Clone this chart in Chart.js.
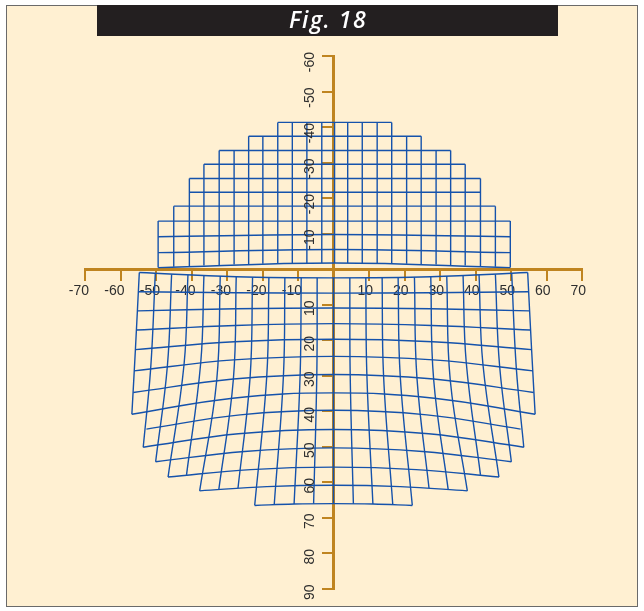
<!DOCTYPE html>
<html>
<head>
<meta charset="utf-8">
<script src="https://cdn.jsdelivr.net/npm/chart.js@4.4.0/dist/chart.umd.min.js"></script>
<style>
  html, body { margin: 0; padding: 0; background: #fff; }
</style>
</head>
<body>
<canvas id="fig" width="644" height="611"></canvas>
<script>
const chartTitle = 'Fig. 18';

// Axis ticks (no label at the origin)
const xTickValues = [-70, -60, -50, -40, -30, -20, -10, 10, 20, 30, 40, 50, 60, 70];
const yTickValues = [-60, -50, -40, -30, -20, -10, 10, 20, 30, 40, 50, 60, 70, 80, 90];

// Upper mesh (above the x axis), columns -12..12
const topColX = [-49.4, -45.0, -40.6, -36.5, -32.2, -28.0, -23.9, -19.9, -15.7, -11.6, -7.5, -3.3, 0.3,
                 4.0, 8.1, 12.3, 16.4, 20.6, 24.7, 28.9, 33.0, 37.1, 41.4, 45.6, 49.8];
const topColEndY = [-0.4, -0.6, -0.8, -1.0, -1.1, -1.3, -1.4, -1.5, -1.6, -1.6, -1.7, -1.7, -1.7,
                    -1.7, -1.7, -1.6, -1.6, -1.5, -1.4, -1.3, -1.1, -1.0, -0.8, -0.6, -0.4];
// rows, top to bottom
const topRowY     = [-41.3, -37.4, -33.4, -29.5, -25.5, -21.6, -17.7, -13.5, -9.7, -5.5, -1.7];
const topRowEdgeY = [-41.3, -37.4, -33.4, -29.5, -25.5, -21.6, -17.7, -13.5, -9.1, -4.6, -0.4];
const topRowSpan  = [4, 6, 8, 9, 10, 10, 11, 12, 12, 12, 12];

// Lower mesh (below the x axis), right half (left half mirrored)
// rows, top to bottom: centre, half-way and end points
const lowRowY     = [2.5, 6.8, 11.0, 15.4, 19.8, 24.6, 29.7, 34.9, 39.8, 45.2, 50.4, 55.8, 60.9, 66.1];
const lowRowHalfX = [27.4, 27.5, 27.5, 27.7, 27.9, 28.1, 28.2, 28.4, 26.3, 26.8, 25.1, 23.3, 18.8, 11.1];
const lowRowHalfY = [2.2, 6.7, 11.2, 15.9, 20.5, 25.6, 31.0, 36.4, 41.1, 46.4, 51.4, 56.5, 61.3, 66.2];
const lowRowEndX  = [54.7, 55.0, 55.1, 55.4, 55.8, 56.2, 56.4, 56.8, 52.7, 53.6, 50.1, 46.6, 37.7, 22.2];
const lowRowEndY  = [1.0, 6.4, 11.8, 17.2, 22.7, 28.7, 34.8, 40.9, 45.1, 50.2, 54.3, 58.6, 62.5, 66.6];
// columns 0..12: top, middle and bottom points
const lowColTopX = [0, 4.6, 9.1, 13.7, 18.2, 22.8, 27.4, 31.9, 36.5, 41.0, 45.6, 50.2, 54.7];
const lowColTopY = [2.5, 2.5, 2.5, 2.4, 2.4, 2.3, 2.2, 2.0, 1.9, 1.7, 1.5, 1.3, 1.0];
const lowColMidX = [0, 4.7, 9.4, 14.1, 18.8, 23.5, 28.2, 32.9, 37.4, 42.1, 46.8, 51.5, 55.8];
const lowColMidY = [29.7, 29.7, 29.8, 30.0, 30.2, 30.6, 31.0, 31.4, 26.4, 26.9, 27.4, 28.0, 22.7];
const lowColEndX = [0, 5.6, 11.1, 16.7, 22.2, 26.9, 32.3, 37.7, 41.4, 46.6, 50.1, 53.6, 56.8];
const lowColEndY = [66.1, 66.1, 66.2, 66.4, 66.6, 61.7, 62.1, 62.5, 58.0, 58.6, 54.3, 50.2, 40.9];

const meshColor = '#1552ab';
const axisColor = '#bf8420';
const labelColor = '#2e2e2e';
const labelFont = '"Liberation Sans", Arial, sans-serif';

const datasets = [];
function addLine(points, curved) {
    datasets.push({
        data: points,
        showLine: true,
        borderColor: meshColor,
        borderWidth: 1.4,
        pointRadius: 0,
        tension: curved ? 0.4 : 0,
        fill: false
    });
}

// upper rows
topRowY.forEach((y, r) => {
    const s = topRowSpan[r];
    addLine([
        {x: topColX[12 - s], y: topRowEdgeY[r]},
        {x: topColX[12], y: y},
        {x: topColX[12 + s], y: topRowEdgeY[r]}
    ], true);
});
// upper columns
topColX.forEach((x, i) => {
    const c = Math.abs(i - 12);
    const r = topRowSpan.findIndex(s => s >= c);
    addLine([{x: x, y: topRowY[r]}, {x: x, y: topColEndY[i]}], false);
});
// lower rows
lowRowY.forEach((y, v) => {
    addLine([
        {x: -lowRowEndX[v], y: lowRowEndY[v]},
        {x: -lowRowHalfX[v], y: lowRowHalfY[v]},
        {x: 0, y: y},
        {x: lowRowHalfX[v], y: lowRowHalfY[v]},
        {x: lowRowEndX[v], y: lowRowEndY[v]}
    ], true);
});
// lower columns
lowColTopX.forEach((x, u) => {
    const sides = u === 0 ? [1] : [-1, 1];
    sides.forEach(k => addLine([
        {x: k * x, y: lowColTopY[u]},
        {x: k * lowColMidX[u], y: lowColMidY[u]},
        {x: k * lowColEndX[u], y: lowColEndY[u]}
    ], true));
});

// Page frame, banner and title
const framePlugin = {
    id: 'frame',
    beforeDraw(chart) {
        const ctx = chart.ctx;
        ctx.save();
        ctx.fillStyle = '#ffffff';
        ctx.fillRect(0, 0, 644, 611);
        ctx.fillStyle = '#fff0d2';
        ctx.fillRect(6, 5, 632, 602);
        ctx.strokeStyle = '#6a6a6a';
        ctx.lineWidth = 1;
        ctx.strokeRect(6.5, 5.5, 631, 601);
        ctx.fillStyle = '#231f20';
        ctx.fillRect(97, 5, 461, 31);
        ctx.fillStyle = '#ffffff';
        ctx.font = 'italic 600 23px "Open Sans", sans-serif';
        ctx.letterSpacing = '1.5px';
        ctx.textAlign = 'center';
        ctx.textBaseline = 'alphabetic';
        ctx.fillText(chartTitle, 328, 28);
        ctx.restore();
    }
};

// Rotated labels of the vertical axis
const yLabelPlugin = {
    id: 'yLabels',
    afterDraw(chart) {
        const ys = chart.scales.y;
        const x0 = chart.scales.x.getPixelForValue(0);
        const ctx = chart.ctx;
        ctx.save();
        ctx.fillStyle = labelColor;
        ctx.font = '14px ' + labelFont;
        ctx.textAlign = 'right';
        ctx.textBaseline = 'middle';
        ys.ticks.forEach(t => {
            const y = ys.getPixelForValue(t.value);
            ctx.save();
            ctx.translate(x0 - 23, y - 4);
            ctx.rotate(-Math.PI / 2);
            ctx.fillText(String(t.value), 0, 0);
            ctx.restore();
        });
        ctx.restore();
    }
};

const axisGrid = { display: true, drawOnChartArea: false, drawTicks: true, tickLength: 10, color: axisColor, lineWidth: 2 };
const axisBorder = { display: true, color: axisColor, width: 3 };

new Chart(document.getElementById('fig'), {
    type: 'scatter',
    data: { datasets: datasets },
    options: {
        responsive: false,
        animation: false,
        events: [],
        layout: { padding: { left: 85, right: 62, top: 56, bottom: 22.5 } },
        plugins: { legend: { display: false }, tooltip: { enabled: false }, title: { display: false } },
        scales: {
            x: {
                type: 'linear', min: -70, max: 70, position: { y: 0 }, z: 1,
                afterBuildTicks: s => { s.ticks = xTickValues.map(v => ({ value: v })); },
                grid: axisGrid,
                border: axisBorder,
                ticks: {
                    autoSkip: false, maxRotation: 0, minRotation: 0,
                    align: 'end', labelOffset: 4, padding: 4,
                    color: labelColor, font: { family: labelFont, size: 14 }
                }
            },
            y: {
                type: 'linear', min: -60, max: 90, reverse: true, position: { x: 0 }, z: 1,
                afterBuildTicks: s => { s.ticks = yTickValues.map(v => ({ value: v })); },
                grid: axisGrid,
                border: axisBorder,
                ticks: { display: false }
            }
        }
    },
    plugins: [framePlugin, yLabelPlugin]
});
</script>
</body>
</html>
